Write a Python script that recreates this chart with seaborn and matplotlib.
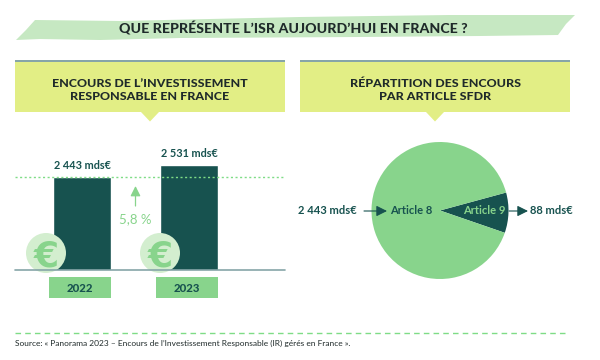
import matplotlib.pyplot as plt
from matplotlib.patches import Circle, Polygon, Rectangle
import pandas as pd
import seaborn as sns

# Data
years = ["2022", "2023"]
encours = [2443, 2531]
encours_labels = ["2 443 mds€", "2 531 mds€"]
growth_label = "5,8 %"

pie_labels = ["Article 9", "Article 8"]
pie_shares = [9.5, 90.5]  # slice sizes as drawn, not the real ratio
pie_amounts = ["88 mds€", "2 443 mds€"]

title = "QUE REPRÉSENTE L’ISR AUJOURD’HUI EN FRANCE ?"
left_title = "ENCOURS DE L’INVESTISSEMENT\nRESPONSABLE EN FRANCE"
right_title = "RÉPARTITION DES ENCOURS\nPAR ARTICLE SFDR"
source = "Source: « Panorama 2023 – Encours de l’Investissement Responsable (IR) gérés en France »."

DARK = "#17524f"
GREEN = "#88d48c"
PALE = "#d3eecf"
BAND = "#c6e8c2"
YELLOW = "#e2ee85"
STEEL = "#86a5a8"
INK = "#1f2a2a"

W, H = 600, 360


def px_axes(fig, x0, y0, x1, y1, **kw):
    # axes placed with pixel coordinates, y going down
    return fig.add_axes([x0 / W, 1 - y1 / H, (x1 - x0) / W, (y1 - y0) / H], **kw)


sns.set_theme(style="white")
plt.rcParams["font.family"] = ["Lato", "DejaVu Sans"]

fig = plt.figure(figsize=(6, 3.6), dpi=100, facecolor="white")

# bars
ax = px_axes(fig, 15, 130, 285, 270)
df = pd.DataFrame({"year": years, "encours": encours})
sns.barplot(data=df, x="year", y="encours", color=DARK, saturation=1, width=0.542, ax=ax)
ax.set_xlim(-0.63, 1.893)
ax.set_ylim(1788, 2774)
ax.set_axis_off()
ax.bar_label(ax.containers[0], labels=encours_labels, padding=4, color=DARK,
             fontsize=7.8, fontweight="bold")

# pie
ax_pie = px_axes(fig, 371.5, 142, 508.5, 279)
ax_pie.pie(pie_shares, colors=[DARK, GREEN], startangle=-19, radius=1,
           wedgeprops={"linewidth": 0})
ax_pie.set_xlim(-1, 1)
ax_pie.set_ylim(-1, 1)

# overlay in pixel coordinates for the panels and annotations
ov = fig.add_axes([0, 0, 1, 1], facecolor="none", zorder=5)
ov.set_xlim(0, W)
ov.set_ylim(H, 0)
ov.set_axis_off()

band = [(16, 40), (26, 30), (35, 20), (120, 21), (300, 17), (450, 15), (575, 15),
        (566, 24), (558, 35), (480, 36), (360, 37), (180, 38), (100, 40), (40, 39)]
ov.add_patch(Polygon(band, closed=True, fc=BAND, ec="none"))
ov.text(293, 28.5, title, ha="center", va="center", fontsize=10.15, fontweight="black", color=INK)

for x0, center, text in [(15, 150, left_title), (300, 435, right_title)]:
    ov.add_patch(Rectangle((x0, 60), 270, 2, fc=STEEL, ec="none"))
    ov.add_patch(Rectangle((x0, 62), 270, 50, fc=YELLOW, ec="none"))
    ov.add_patch(Polygon([(center - 9, 112), (center + 9, 112), (center, 121.5)], fc=YELLOW, ec="none"))
    ov.text(center, 90, text, ha="center", va="center", fontsize=8.9, fontweight="black",
            color=INK, linespacing=1.15)

ov.plot([15, 285], [177, 177], color="#7fdc86", lw=1, ls=(0, (1.5, 1.8)))
ov.plot([15, 285], [270, 270], color=STEEL, lw=1.2)

# euro coins and year boxes
for cx, bx, year in zip([46, 160], [49, 156], years):
    ov.add_patch(Circle((cx, 253), 20, fc=PALE, ec="none"))
    ov.text(cx, 253, "€", ha="center", va="center_baseline", fontsize=26, fontweight="bold",
            color=GREEN, fontfamily="DejaVu Sans")
    ov.add_patch(Rectangle((bx, 277), 62, 21, fc=GREEN, ec="none"))
    ov.text(bx + 31, 288.5, year, ha="center", va="center", fontsize=8.2, fontweight="black", color=DARK)

ov.annotate("", xy=(135.5, 186), xytext=(135.5, 206),
            arrowprops=dict(arrowstyle="-|>", color=GREEN, lw=0.9, mutation_scale=15, shrinkA=0, shrinkB=0))
ov.text(135.5, 219.5, growth_label, ha="center", va="center", fontsize=9.5, color=GREEN)

# pie annotations
ov.text(357, 210.5, pie_amounts[1], ha="right", va="center", fontsize=8, fontweight="bold", color=DARK)
ov.text(411, 211, pie_labels[1], ha="center", va="center", fontsize=8, fontweight="bold", color=DARK)
ov.text(484, 211, pie_labels[0], ha="center", va="center", fontsize=8, fontweight="bold", color=GREEN)
ov.text(530, 210.5, pie_amounts[0], ha="left", va="center", fontsize=8, fontweight="bold", color=DARK)
for x_start, x_end in [(364, 387), (509, 528)]:
    ov.annotate("", xy=(x_end, 211), xytext=(x_start, 211),
                arrowprops=dict(arrowstyle="-|>", color=DARK, lw=0.8, mutation_scale=16, shrinkA=0, shrinkB=0))

ov.plot([15, 569], [332.5, 332.5], color="#7fdc86", lw=1, ls=(0, (4, 3)))
ov.text(15, 343, source, ha="left", va="center", fontsize=6, color=INK)

fig.savefig("out.png", dpi=100)
